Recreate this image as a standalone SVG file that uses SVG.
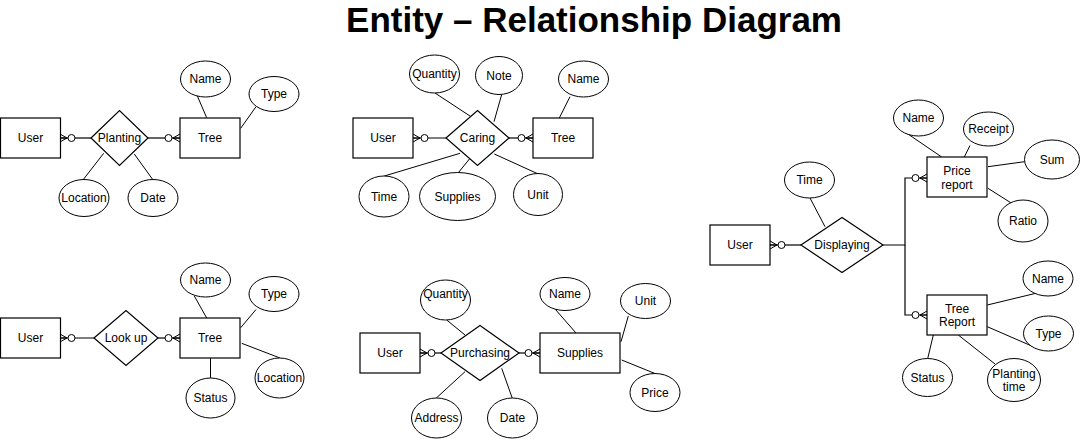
<svg xmlns="http://www.w3.org/2000/svg" width="1081" height="439" viewBox="0 0 1081 439">
<style>
.e{fill:#fff;stroke:#000;stroke-width:1.2}
.a{fill:#fff;stroke:#000;stroke-width:1}
.l{stroke:#000;stroke-width:1;fill:none}
.c{stroke:#000;stroke-width:1.2;fill:none;marker-end:url(#zm)}
.cn{stroke:#000;stroke-width:1.2;fill:none}
text{font-family:"Liberation Sans",Arial,sans-serif;font-size:12px;fill:#000;text-anchor:middle}
.t{font-size:35px;font-weight:bold}
</style>
<defs>
<marker id="zm" markerUnits="userSpaceOnUse" orient="auto" refX="0" refY="0" markerWidth="18" markerHeight="12" viewBox="-17 -6 18 12" overflow="visible">
<path d="M-7 0L0 -4M-7 0L0 0M-7 0L0 4" stroke="#000" stroke-width="1" fill="none"/>
<circle cx="-11.5" cy="0" r="3.5" fill="#fff" stroke="#000" stroke-width="1"/>
</marker>
</defs>
<rect width="1081" height="439" fill="#fff"/>
<text class="t" x="594" y="32">Entity – Relationship Diagram</text>

<g id="connectors">
<path class="c" d="M91 138H60"/>
<path class="c" d="M148 138H180"/>
<path class="c" d="M446 138H413"/>
<path class="c" d="M509 138H533"/>
<path class="c" d="M94 338H60"/>
<path class="c" d="M158 338H180"/>
<path class="c" d="M441 353H420"/>
<path class="c" d="M519 353H540"/>
<path class="c" d="M801 245H770"/>
<path class="c" d="M883 245H905V178H927"/>
<path class="c" d="M905 245V315H927"/>
<g id="attr-links">
<path class="l" d="M206.7 117.7L196.7 94.5M240.7 128.3L256 106.7M103.7 153.3L83.3 179.5M134.3 154L152.7 179.5"/>
<path class="l" d="M471 116.7L435 93M494 121.7L501.7 94.5M559.3 118L570 96.7M460 153.3L384.3 176M470 158.3L458.3 172.7M494.3 154L538.3 174"/>
<path class="l" d="M206.7 318L194.3 296M240.7 327.7L256 309.5M241.7 343.3L280 358M210.5 358V378"/>
<path class="l" d="M465 335L446.7 320M465 371.7L436 398.3M501.7 368.3L512.3 398.3M576 333L555 309M621 341.7L628.3 316M621.7 360L655 373.5"/>
<path class="l" d="M825 226.7L810 198M941.7 157L905 132M964.3 157L970 145.5M988 166.7L1024.5 161.7M988 188.3L1011.7 203.3M987.3 305L1035 293.5M987.3 326.7L1031.7 346M933.3 335L927.7 358.5M958.3 335L995 364"/>
</g>
</g>

<g id="planting">
<rect id="user1" class="e" x="0.5" y="118" width="60" height="40"/><text x="30.5" y="142">User</text>
<polygon class="e" points="91,138 119.5,110.5 148,138 119.5,165.5"/><text x="119.5" y="142">Planting</text>
<rect id="tree1" class="e" x="180" y="118" width="60" height="40"/><text x="210" y="142">Tree</text>
<ellipse class="a" cx="205.5" cy="79" rx="25" ry="18"/><text x="205.5" y="83">Name</text>
<ellipse class="a" cx="274" cy="94" rx="25" ry="17.5"/><text x="274" y="98">Type</text>
<ellipse class="a" cx="84" cy="198" rx="25" ry="18.5"/><text x="84" y="202">Location</text>
<ellipse class="a" cx="153" cy="198" rx="25" ry="18.5"/><text x="153" y="202">Date</text>
</g>

<g id="caring">
<rect id="user2" class="e" x="353" y="118" width="60" height="40"/><text x="383" y="142">User</text>
<polygon class="e" points="446,138 477.5,110.5 509,138 477.5,165.5"/><text x="477.5" y="142">Caring</text>
<rect id="tree2" class="e" x="533" y="118" width="60" height="40"/><text x="563" y="142">Tree</text>
<ellipse class="a" cx="434.5" cy="74" rx="25" ry="19"/><text x="434.5" y="78">Quantity</text>
<ellipse class="a" cx="499" cy="75.5" rx="23.5" ry="19"/><text x="499" y="79.5">Note</text>
<ellipse class="a" cx="583.5" cy="79" rx="25" ry="18"/><text x="583.5" y="83">Name</text>
<ellipse class="a" cx="384" cy="196.5" rx="25" ry="20.5"/><text x="384" y="201">Time</text>
<ellipse class="a" cx="457.5" cy="196.5" rx="38" ry="24"/><text x="457.5" y="201">Supplies</text>
<ellipse class="a" cx="538" cy="194.5" rx="24.5" ry="21"/><text x="538" y="198.5">Unit</text>
</g>

<g id="lookup">
<rect id="user3" class="e" x="0.5" y="318" width="60" height="40"/><text x="30.5" y="342">User</text>
<polygon class="e" points="94,338 126,310.5 158,338 126,365.5"/><text x="126" y="342">Look up</text>
<rect id="tree3" class="e" x="180" y="318" width="60" height="40"/><text x="210" y="342">Tree</text>
<ellipse class="a" cx="205.5" cy="280" rx="25" ry="17"/><text x="205.5" y="284">Name</text>
<ellipse class="a" cx="274" cy="294" rx="25" ry="17.5"/><text x="274" y="298">Type</text>
<ellipse class="a" cx="279.5" cy="378" rx="24.5" ry="20"/><text x="279.5" y="382">Location</text>
<ellipse class="a" cx="210.5" cy="398" rx="24.5" ry="20"/><text x="210.5" y="402">Status</text>
</g>

<g id="purchasing">
<rect id="user4" class="e" x="360" y="333" width="60" height="40"/><text x="390" y="357">User</text>
<polygon class="e" points="441,353 480,325.5 519,353 480,380.5"/><text x="480" y="357">Purchasing</text>
<rect id="supplies" class="e" x="540" y="333" width="80" height="40"/><text x="580" y="357">Supplies</text>
<ellipse class="a" cx="445.5" cy="300" rx="25" ry="20"/><text x="445.5" y="298">Quantity</text>
<ellipse class="a" cx="565" cy="294" rx="25" ry="16.5"/><text x="565" y="298">Name</text>
<ellipse class="a" cx="645.5" cy="301" rx="25" ry="17.5"/><text x="645.5" y="305">Unit</text>
<ellipse class="a" cx="655" cy="392.5" rx="25" ry="19"/><text x="655" y="397">Price</text>
<ellipse class="a" cx="436.5" cy="418" rx="25" ry="20"/><text x="436.5" y="422">Address</text>
<ellipse class="a" cx="512.5" cy="418" rx="25" ry="20"/><text x="512.5" y="422">Date</text>
</g>

<g id="displaying">
<rect id="user5" class="e" x="710" y="225" width="60" height="40"/><text x="740" y="249">User</text>
<polygon class="e" points="801,245 842,217.5 883,245 842,272.5"/><text x="842" y="249">Displaying</text>
<rect id="price-report" class="e" x="927" y="157" width="60" height="40"/><text x="957" y="175">Price</text><text x="957" y="188.5">report</text>
<rect id="tree-report" class="e" x="927" y="295" width="60" height="40"/><text x="957" y="312.5">Tree</text><text x="957" y="326">Report</text>
<ellipse class="a" cx="809.5" cy="180" rx="25" ry="18"/><text x="809.5" y="184">Time</text>
<ellipse class="a" cx="918.5" cy="118" rx="25" ry="18"/><text x="918.5" y="122">Name</text>
<ellipse class="a" cx="988.5" cy="129" rx="25" ry="17"/><text x="988.5" y="133">Receipt</text>
<ellipse class="a" cx="1052" cy="159.5" rx="27.5" ry="19.5"/><text x="1052" y="163.5">Sum</text>
<ellipse class="a" cx="1023" cy="221" rx="25" ry="21"/><text x="1023" y="225">Ratio</text>
<ellipse class="a" cx="1048" cy="278.5" rx="25" ry="17.5"/><text x="1048" y="282.5">Name</text>
<ellipse class="a" cx="1048.5" cy="333.5" rx="25" ry="17.5"/><text x="1048.5" y="337.5">Type</text>
<ellipse class="a" cx="927.5" cy="377.5" rx="25" ry="19"/><text x="927.5" y="381.5">Status</text>
<ellipse class="a" cx="1014" cy="380" rx="26.5" ry="21.5"/><text x="1014" y="377.5">Planting</text><text x="1014" y="391">time</text>
</g>
</svg>
